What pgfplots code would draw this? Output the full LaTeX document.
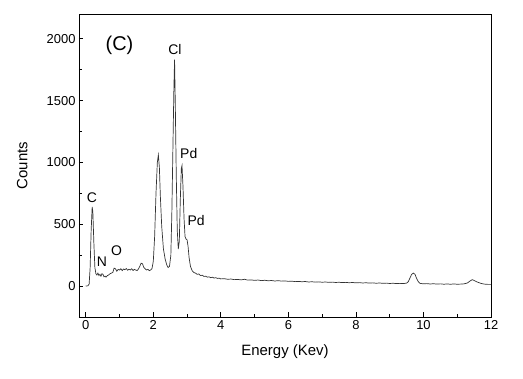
\documentclass[border=0pt]{standalone}
\usepackage{pgfplots}
\pgfplotsset{compat=1.18}
\usepackage{fontspec}
\setmainfont{Liberation Sans}
\begin{document}
\begin{tikzpicture}
\begin{axis}[
  scale only axis, width=412bp, height=303bp,
  xmin=-0.2, xmax=12, ymin=-250, ymax=2200,
  xtick={0,2,...,12}, minor xtick={1,3,...,11},
  ytick={0,500,1000,1500,2000}, minor ytick={-250,250,750,1250,1750},
  tick align=inside, major tick length=4.5bp, minor tick length=3bp,
  tick style={black, line width=0.7pt},
  axis line style={line width=0.8pt},
  xticklabel style={font=\fontsize{13}{14}\selectfont},
  yticklabel style={font=\fontsize{13}{14}\selectfont},
  /pgf/number format/assume math mode=true,
  /pgf/number format/1000 sep={},
  xlabel={Energy (Kev)}, ylabel={Counts},
  xlabel style={font=\fontsize{15}{16}\selectfont, at={(axis description cs:0.5,-0.1155)}, anchor=center},
  ylabel style={font=\fontsize{15}{16}\selectfont, at={(axis description cs:-0.138,0.5)}, anchor=center},
  xtick pos=bottom, ytick pos=left,
  clip=true,
]
\addplot[black!80, line width=0.7pt] coordinates {
(0.00,0) (0.06,2) (0.10,15) (0.13,150) (0.16,450) (0.19,640) (0.21,600) (0.24,350) (0.27,150)
(0.30,100) (0.33,90) (0.36,105) (0.39,85) (0.42,95) (0.45,80) (0.48,100) (0.51,95) (0.54,75)
(0.57,80) (0.60,72) (0.64,85) (0.68,90) (0.72,100) (0.76,105) (0.80,110) (0.84,145) (0.88,140)
(0.92,120) (0.96,135) (1.00,130) (1.04,140) (1.08,125) (1.12,138) (1.16,132) (1.20,142) (1.24,128)
(1.28,136) (1.32,130) (1.36,140) (1.40,126) (1.44,135) (1.48,130) (1.52,125) (1.56,138) (1.60,160)
(1.64,185) (1.68,180) (1.72,150) (1.76,140) (1.80,130) (1.84,135) (1.88,125) (1.92,130) (1.96,140)
(2.00,200) (2.04,400) (2.08,750) (2.12,1000) (2.15,1060) (2.18,960) (2.21,720) (2.25,480) (2.30,300)
(2.35,220) (2.40,170) (2.44,150) (2.48,160) (2.52,250) (2.55,600) (2.58,1100) (2.61,1600) (2.63,1830)
(2.65,1500) (2.68,900) (2.71,450) (2.74,300) (2.77,360) (2.80,700) (2.83,950) (2.85,975) (2.88,800)
(2.91,550) (2.94,400) (2.97,380) (3.00,375) (3.03,320) (3.06,230) (3.10,160) (3.15,125) (3.20,110)
(3.25,105) (3.30,95) (3.35,98) (3.40,85) (3.45,88) (3.50,78) (3.55,80) (3.60,72) (3.65,75) (3.70,68)
(3.75,72) (3.80,65) (3.85,68) (3.90,62) (3.95,64) (4.00,58) (4.10,60) (4.20,55) (4.30,57) (4.40,52)
(4.50,54) (4.60,50) (4.70,55) (4.80,48) (4.90,50) (5.00,46) (5.10,49) (5.20,44) (5.30,47) (5.40,43)
(5.50,45) (5.60,41) (5.70,44) (5.80,40) (5.90,42) (6.00,38) (6.10,40) (6.20,36) (6.30,38) (6.40,35)
(6.50,37) (6.60,33) (6.70,35) (6.80,32) (6.90,34) (7.00,31) (7.10,33) (7.20,30) (7.30,32) (7.40,29)
(7.50,31) (7.60,28) (7.70,30) (7.80,27) (7.90,29) (8.00,26) (8.10,28) (8.20,25) (8.30,27) (8.40,24)
(8.50,26) (8.60,23) (8.70,25) (8.80,22) (8.90,24) (9.00,21) (9.10,23) (9.20,20) (9.30,22) (9.40,20)
(9.50,24) (9.55,35) (9.60,65) (9.65,95) (9.70,105) (9.75,95) (9.80,60) (9.85,35) (9.90,22) (10.00,18)
(10.10,20) (10.20,17) (10.30,19) (10.40,16) (10.50,18) (10.60,15) (10.70,17) (10.80,15) (10.90,17)
(11.00,15) (11.10,16) (11.20,18) (11.30,25) (11.40,45) (11.45,52) (11.50,45) (11.60,32) (11.70,22)
(11.80,16) (11.90,14) (12.00,14)
};
\node[font=\fontsize{20}{22}\selectfont] at (axis cs:1.0,1949) {(C)};
\node[font=\fontsize{14}{15}\selectfont] at (axis cs:2.64,1914) {Cl};
\node[font=\fontsize{14}{15}\selectfont] at (axis cs:3.05,1072) {Pd};
\node[font=\fontsize{14}{15}\selectfont] at (axis cs:3.27,532) {Pd};
\node[font=\fontsize{14}{15}\selectfont] at (axis cs:0.18,716) {C};
\node[font=\fontsize{14}{15}\selectfont] at (axis cs:0.48,194) {N};
\node[font=\fontsize{14}{15}\selectfont] at (axis cs:0.91,289) {O};
\end{axis}
\path (current axis.south west) ++(-79bp,-62bp) coordinate (a);
\path (current axis.north east) ++(32bp,14bp) coordinate (b);
\path (a) rectangle (b);
\end{tikzpicture}
\end{document}
